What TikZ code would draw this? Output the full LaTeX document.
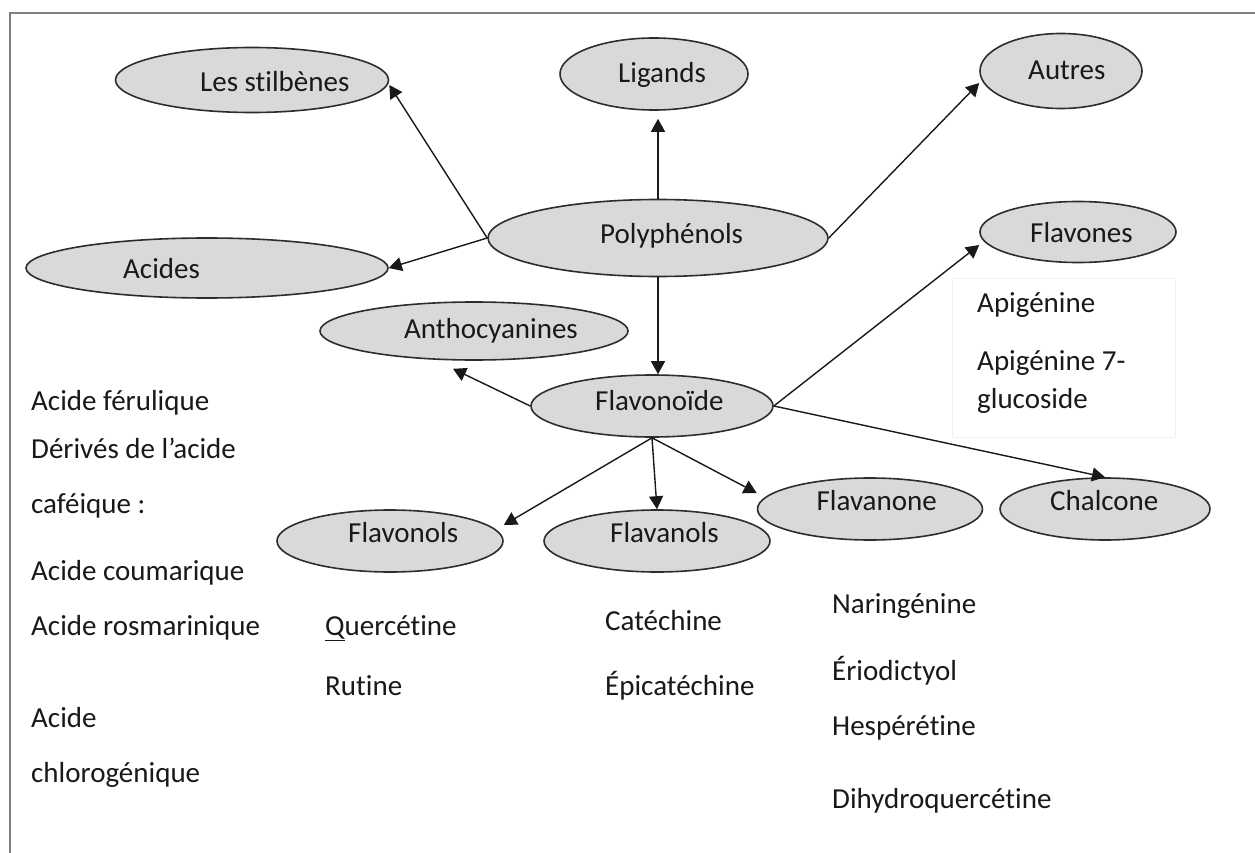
\documentclass[tikz,border=0pt]{standalone}
\usepackage{fontspec}
\setmainfont{Carlito}[RawFeature={-liga,-clig}]
\usetikzlibrary{shapes.geometric,arrows.meta,calc}
\definecolor{ellfill}{RGB}{217,217,217}
\definecolor{ellline}{RGB}{45,45,45}
\definecolor{ink}{RGB}{25,25,25}
\definecolor{framegray}{RGB}{128,128,128}
\begin{document}
\begin{tikzpicture}[x=1pt,y=-1pt,
  ell/.style={ellipse,draw=ellline,line width=1.6pt,fill=ellfill,inner sep=0pt},
  txt/.style={anchor=base west,inner sep=0pt,text=ink,font=\fontsize{29pt}{35pt}\selectfont},
  txte/.style={txt,anchor=base east},
  arr/.style={draw=ink,line width=1.4pt,-{Triangle[length=13pt,width=14pt]}}]
\useasboundingbox (0,0) rectangle (1255,853);
\fill[white] (0,0) rectangle (1255,853);
% frame
\draw[framegray,line width=2pt] (10,853) -- (10,13) -- (1255,13);
% faint box
\draw[black!5,line width=1pt] (952,278) rectangle (1175,437);
% ellipses
\node[ell,minimum width=273pt,minimum height=65pt] (stil) at (252,80) {};
\node[ell,minimum width=362pt,minimum height=60pt] (acid) at (207,268) {};
\node[ell,minimum width=188pt,minimum height=72pt] (lig) at (654,74) {};
\node[ell,minimum width=340pt,minimum height=77pt] (poly) at (658,238) {};
\node[ell,minimum width=162pt,minimum height=75pt] (aut) at (1061,71) {};
\node[ell,minimum width=196pt,minimum height=61pt] (flvs) at (1078,232) {};
\node[ell,minimum width=308pt,minimum height=58pt] (antho) at (474,331) {};
\node[ell,minimum width=242pt,minimum height=62pt] (flav) at (652,406) {};
\node[ell,minimum width=226pt,minimum height=62pt] (fl1) at (390,541) {};
\node[ell,minimum width=226pt,minimum height=62pt] (fl2) at (657,541) {};
\node[ell,minimum width=225pt,minimum height=62pt] (fl3) at (870,509) {};
\node[ell,minimum width=210pt,minimum height=62pt] (chal) at (1105,509) {};
% ellipse labels
\node[txt] (tstil) at (200,92) {Les stilbènes};
\node[txt] (tacid) at (123,278) {Acides};
\node[txt] (tlig) at (618,83) {Ligands};
\node[txt] (tpoly) at (600,243) {Polyphénols};
\node[txt] (taut) at (1028,80) {Autres};
\node[txt] (tflvs) at (1030,242) {Flavones};
\node[txte] (tantho) at (578,338) {Anthocyanines};
\node[txt] (tflav) at (595,410) {Flavonoïde};
\node[txt] (tfl1) at (348,542) {Flavonols};
\node[txt] (tfl2) at (610,542) {Flavanols};
\node[txte] (tfl3) at (937,510) {Flavanone};
\node[txt] (tchal) at (1050,510) {Chalcone};
% connectors
\draw[arr] (poly.west) -- ($(stil.east)+(0,5)$);
\draw[arr] (poly.west) -- (acid.east);
\draw[arr,shorten >=8pt] (poly.north) -- (poly.north |- lig.south);
\draw[arr] (poly.east) -- ($(aut.west)+(0,12)$);
\draw[arr] (poly.south) -- (poly.south |- flav.north);
\draw[arr] (flav.west) -- ($(antho.south)+(-21,8)$);
\draw[arr] (flav.east) -- ($(flvs.west)+(0,13)$);
\draw[arr] (flav.east) -- (chal.north);
\draw[arr] (flav.south) -- ($(fl1.east)+(0,-16)$);
\draw[arr] (flav.south) -- (fl2.north);
\draw[arr] (flav.south) -- ($(fl3.west)+(0,-16)$);
% free texts
\node[txt] (a1) at (31,410) {Acide férulique};
\node[txt] (a2) at (31,458) {Dérivés de l’acide};
\node[txt] (a3) at (31,513) {caféique :};
\node[txt] (a4) at (31,580) {Acide coumarique};
\node[txt] (a5) at (31,635) {Acide rosmarinique};
\node[txt] (a6) at (31,727) {Acide};
\node[txt] (a7) at (31,782) {chlorogénique};
\node[txt] (q1) at (325,635) {\underline{Q}uercétine};
\node[txt] (q2) at (325,695) {Rutine};
\node[txt] (c1) at (605,630) {Catéchine};
\node[txt] (c2) at (605,695) {Épicatéchine};
\node[txt] (n1) at (832,613) {Naringénine};
\node[txt] (n2) at (832,680) {Ériodictyol};
\node[txt] (n3) at (832,735) {Hespérétine};
\node[txt] (n4) at (832,808) {Dihydroquercétine};
\node[txt] (p1) at (977,312) {Apigénine};
\node[txt] (p2) at (977,370) {Apigénine 7-};
\node[txt] (p3) at (977,408) {glucoside};
\end{tikzpicture}
\end{document}
